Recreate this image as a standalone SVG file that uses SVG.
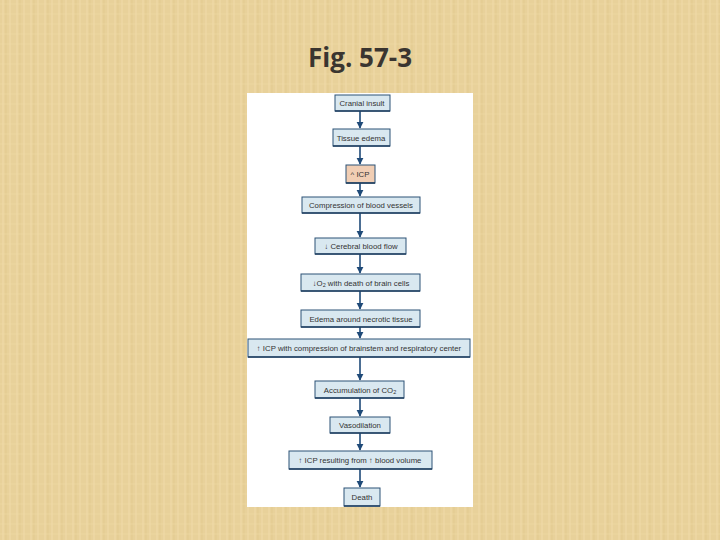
<svg xmlns="http://www.w3.org/2000/svg" width="720" height="540" viewBox="0 0 720 540">
<defs>
<pattern id="paper" width="14" height="10" patternUnits="userSpaceOnUse">
<rect width="14" height="10" fill="#e8d19a"/>
<path d="M3 0V10M10 0V10" stroke="#f0dcaa" stroke-width="1.2" opacity="0.7"/>
<path d="M6 0V10" stroke="#dcc185" stroke-width="1" opacity="0.5"/>
<path d="M0 4H14" stroke="#efdba8" stroke-width="1" opacity="0.5"/>
</pattern>
<marker id="ah" viewBox="0 0 10 10" refX="9" refY="5" markerWidth="4.5" markerHeight="4.5" orient="auto" markerUnits="strokeWidth">
<path d="M0 0L10 5L0 10Z" fill="#1f4a78"/>
</marker>
<style>
.box{fill:#d9e8f0;stroke:#2c5276;stroke-width:1}
.hot{fill:#f1ceb4;stroke:#2c5276;stroke-width:1}
.bl{stroke:#1f3f60;stroke-width:1.6}
.t{font-family:"Liberation Sans",Arial,sans-serif;font-size:7.8px;fill:#333;text-anchor:middle}
.ar{stroke:#1f4a78;stroke-width:1.6;fill:none;marker-end:url(#ah)}
</style>
</defs>
<rect width="720" height="540" fill="url(#paper)"/>
<text x="360" y="67" font-family="'Open Sans','Liberation Sans',sans-serif" font-weight="bold" font-size="26" fill="#3a3530" text-anchor="middle">Fig. 57-3</text>
<rect x="247" y="93" width="226" height="414" fill="#ffffff"/>
<g id="connectors">
<line class="ar" x1="360" y1="111" x2="360" y2="128"/>
<line class="ar" x1="360" y1="146" x2="360" y2="164"/>
<line class="ar" x1="360" y1="183" x2="360" y2="196"/>
<line class="ar" x1="360" y1="213" x2="360" y2="237"/>
<line class="ar" x1="360" y1="254" x2="360" y2="273"/>
<line class="ar" x1="360" y1="291" x2="360" y2="309"/>
<line class="ar" x1="360" y1="327" x2="360" y2="338"/>
<line class="ar" x1="360" y1="357" x2="360" y2="380"/>
<line class="ar" x1="360" y1="398" x2="360" y2="416"/>
<line class="ar" x1="360" y1="433" x2="360" y2="450"/>
<line class="ar" x1="360" y1="469" x2="360" y2="487"/>
</g>
<g id="n1"><rect class="box" x="335" y="95" width="55" height="16"/><line class="bl" x1="335" y1="111" x2="390" y2="111"/><text class="t" x="362" y="106">Cranial insult</text></g>
<g id="n2"><rect class="box" x="333" y="129" width="57" height="17"/><line class="bl" x1="333" y1="146" x2="390" y2="146"/><text class="t" x="361" y="140.5">Tissue edema</text></g>
<g id="n3"><rect class="hot" x="346" y="165" width="29" height="18"/><line class="bl" x1="346" y1="183" x2="375" y2="183"/><text class="t" x="360" y="177">^ ICP</text></g>
<g id="n4"><rect class="box" x="302" y="197" width="118" height="16"/><line class="bl" x1="302" y1="213" x2="420" y2="213"/><text class="t" x="361" y="208">Compression of blood vessels</text></g>
<g id="n5"><rect class="box" x="315" y="238" width="91" height="16"/><line class="bl" x1="315" y1="254" x2="406" y2="254"/><text class="t" x="361" y="249">↓ Cerebral blood flow</text></g>
<g id="n6"><rect class="box" x="301" y="274" width="119" height="17"/><line class="bl" x1="301" y1="291" x2="420" y2="291"/><text class="t" x="361" y="285.5">↓O<tspan font-size="5.5" dy="1.5">2</tspan><tspan dy="-1.5"> with death of brain cells</tspan></text></g>
<g id="n7"><rect class="box" x="301" y="310" width="119" height="17"/><line class="bl" x1="301" y1="327" x2="420" y2="327"/><text class="t" x="361" y="321.5">Edema around necrotic tissue</text></g>
<g id="n8"><rect class="box" x="248" y="339" width="222" height="18"/><line class="bl" x1="248" y1="357" x2="470" y2="357"/><text class="t" x="359" y="351">↑ ICP with compression of brainstem and respiratory center</text></g>
<g id="n9"><rect class="box" x="315" y="381" width="89" height="17"/><line class="bl" x1="315" y1="398" x2="404" y2="398"/><text class="t" x="360" y="392.5">Accumulation of CO<tspan font-size="5.5" dy="1.5">2</tspan></text></g>
<g id="n10"><rect class="box" x="330" y="417" width="60" height="16"/><line class="bl" x1="330" y1="433" x2="390" y2="433"/><text class="t" x="360" y="428">Vasodilation</text></g>
<g id="n11"><rect class="box" x="289" y="451" width="143" height="18"/><line class="bl" x1="289" y1="469" x2="432" y2="469"/><text class="t" x="360" y="463">↑ ICP resulting from ↑ blood volume</text></g>
<g id="n12"><rect class="box" x="344" y="488" width="36" height="18"/><line class="bl" x1="344" y1="506" x2="380" y2="506"/><text class="t" x="362" y="500">Death</text></g>
</svg>
